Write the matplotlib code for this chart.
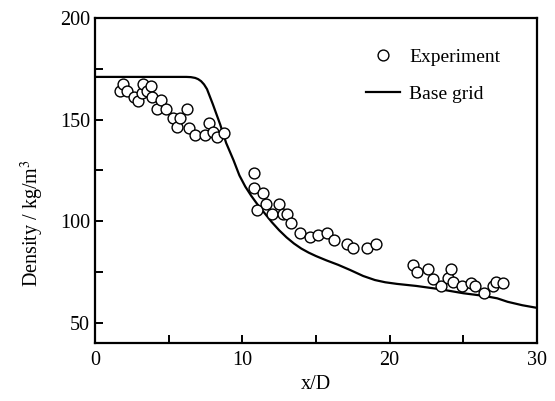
import numpy as np
import matplotlib
matplotlib.use('Agg')
import matplotlib.pyplot as plt
from matplotlib.ticker import MultipleLocator

plt.rcParams['font.family'] = ['Liberation Serif', 'DejaVu Serif']
plt.rcParams['mathtext.fontset'] = 'stix'

# experiment points (x/D, density)
exp_x = [1.70, 1.92, 2.19, 2.67, 2.94, 3.17, 3.28, 3.55, 3.78, 3.89, 4.19, 4.48, 4.82,
         5.27, 5.55, 5.77, 6.26, 6.38, 6.79, 7.47, 7.76, 8.03, 8.26, 8.76,
         10.79, 10.79, 11.02, 11.38, 11.61, 11.99, 12.51, 12.74, 13.01, 13.28, 13.91,
         14.59, 15.16, 15.77, 16.22, 17.08, 17.53, 18.48, 19.07,
         21.56, 21.83, 22.62, 22.96, 23.46, 23.98, 24.14, 24.28, 24.89, 25.50, 25.79,
         26.40, 26.99, 27.22, 27.71]
exp_y = [164.2, 167.5, 164.2, 161.0, 159.3, 162.9, 167.5, 164.2, 166.5, 161.0, 155.1, 159.6, 155.1,
         150.6, 146.2, 150.6, 155.4, 145.7, 142.4, 142.4, 148.5, 144.0, 141.3, 143.5,
         123.9, 116.2, 105.5, 113.7, 108.3, 103.5, 108.3, 103.5, 103.5, 98.9, 94.3,
         92.0, 93.2, 94.3, 90.7, 88.7, 86.6, 86.6, 88.7,
         78.4, 75.1, 76.3, 71.4, 68.1, 71.9, 76.3, 70.2, 68.1, 69.4, 68.1,
         64.8, 68.1, 70.2, 69.4]

# base grid simulation
grid_x = [0, 6.2, 6.5, 6.8, 7.0, 7.2, 7.4, 7.6, 8.0, 8.5, 8.9, 9.4, 9.8, 10.2, 10.6, 11.0,
          11.5, 12.0, 12.5, 13.0, 13.5, 14.0, 14.5, 15.0, 15.7, 16.5, 17.3, 18.2,
          19.0, 19.7, 20.5, 21.8, 23.4, 25.0, 26.4, 27.3, 28.0, 29.0, 30.0]
grid_y = [171, 171, 170.9, 170.5, 169.9, 168.9, 167.3, 165, 157.5, 147.5, 138.5, 130, 122.5, 117, 112.5, 108.5,
          104, 99.5, 95.5, 92, 89, 86.5, 84.5, 82.8, 80.7, 78.5, 76, 73,
          71, 69.9, 69.1, 68.1, 66.5, 64.5, 63.2, 62, 60.3, 58.6, 57.3]

fig = plt.figure(figsize=(5.55, 4.01), dpi=100)
ax = fig.add_axes([0.1712, 0.1446, 0.7964, 0.8105])

ax.plot(exp_x, exp_y, 'o', ms=7.8, mfc='white', mec='black', mew=1.0,
        label='Experiment', zorder=3)
ax.plot(grid_x, grid_y, '-', color='black', lw=1.6, label='Base grid', zorder=2)

ax.set_xlim(0, 30)
ax.set_ylim(40, 200)
ax.xaxis.set_major_locator(MultipleLocator(10))
ax.xaxis.set_minor_locator(MultipleLocator(5))
ax.yaxis.set_major_locator(MultipleLocator(50))
ax.yaxis.set_minor_locator(MultipleLocator(25))
ax.tick_params(which='both', direction='in', length=6, width=1.4, labelsize=14.5)
ax.tick_params(axis='x', pad=6)
for s in ax.spines.values():
    s.set_linewidth(1.6)

ax.set_xlabel('x/D', fontsize=14.5)
ax.set_ylabel('Density / kg/m$^3$', fontsize=14.5)
ax.yaxis.set_label_coords(-0.11, 0.37)
ax.xaxis.set_label_coords(0.5, -0.098)

ax.legend(loc='upper left', bbox_to_anchor=(0.612, 0.908), frameon=False, fontsize=14,
          handlelength=1.75, handletextpad=0.5, labelspacing=1.0,
          borderpad=0, borderaxespad=0, numpoints=1)

fig.savefig('out.png', dpi=100)
